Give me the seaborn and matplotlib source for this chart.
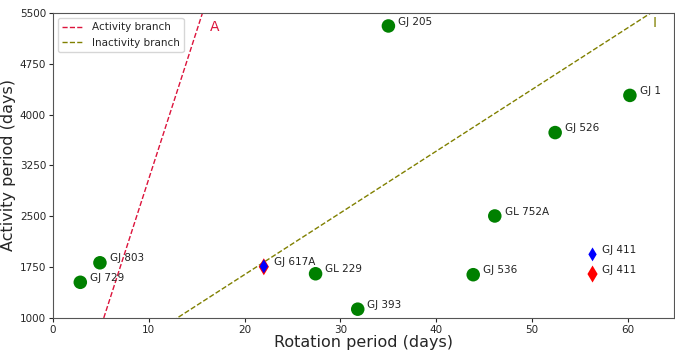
import numpy as np
import pandas as pd
import matplotlib
matplotlib.use("Agg")
import matplotlib.pyplot as plt
import seaborn as sns

# Stars with single activity cycle (green circles)
star_names = ["GJ 729", "GJ 803", "GL 229", "GJ 393", "GJ 205", "GJ 536", "GL 752A", "GJ 526", "GJ 1"]
rot_period = [2.85, 4.9, 27.4, 31.8, 35.0, 43.85, 46.1, 52.4, 60.2]
cyc_period = [1525, 1813, 1651, 1128, 5309, 1637, 2504, 3735, 4284]

# Stars with a second cycle estimate (red / blue diamonds)
dia_names = ["GJ 617A", "GJ 411"]
dia_rot = [22.0, 56.3]
dia_cyc_red = [1754, 1647]
dia_cyc_blue = [1760, 1937]

# Branch lines: cycle = slope * rotation + intercept
act_slope, act_intercept = 437.0, -1316.0
inact_slope, inact_intercept = 91.1, -182.5

sns.set_style("ticks")
fig = plt.figure(figsize=(6.75, 3.52), dpi=100)
ax = fig.add_axes([0.0785, 0.097, 0.92, 0.866])

xx = np.linspace(0, 65, 200)
sns.lineplot(x=xx, y=act_slope * xx + act_intercept, ax=ax, color="crimson",
             linestyle="--", linewidth=1, label="Activity branch")
sns.lineplot(x=xx, y=inact_slope * xx + inact_intercept, ax=ax, color="olive",
             linestyle="--", linewidth=1, label="Inactivity branch")

sns.scatterplot(x=rot_period, y=cyc_period, ax=ax, color="green", s=95,
                edgecolor="none", marker="o", zorder=3)
sns.scatterplot(x=dia_rot, y=dia_cyc_red, ax=ax, color="red", s=75,
                edgecolor="none", marker="d", zorder=3)
sns.scatterplot(x=dia_rot, y=dia_cyc_blue, ax=ax, color="blue", s=50,
                edgecolor="none", marker="d", zorder=4)

for n, x, y in zip(star_names, rot_period, cyc_period):
    ax.annotate(n, (x, y), xytext=(7, 1), textcoords="offset points", fontsize=7.5, color="#222222")
ax.annotate(dia_names[0], (dia_rot[0], dia_cyc_red[0]), xytext=(7, 1),
            textcoords="offset points", fontsize=7.5, color="#222222")
ax.annotate(dia_names[1], (dia_rot[1], dia_cyc_red[1]), xytext=(7, 1),
            textcoords="offset points", fontsize=7.5, color="#222222")
ax.annotate(dia_names[1], (dia_rot[1], dia_cyc_blue[1]), xytext=(7, 1),
            textcoords="offset points", fontsize=7.5, color="#222222")

ax.text(16.4, 5300, "A", color="crimson", fontsize=10, va="center")
ax.text(62.6, 5350, "I", color="olive", fontsize=10, va="center")

ax.set_xlim(0, 64.8)
ax.set_ylim(1000, 5500)
ax.set_yticks([1000, 1750, 2500, 3250, 4000, 4750, 5500])
ax.set_xticks([0, 10, 20, 30, 40, 50, 60])
ax.tick_params(labelsize=7.5, pad=2, length=3)
ax.set_xlabel("Rotation period (days)", fontsize=11.5, labelpad=0)
ax.set_ylabel("Activity period (days)", fontsize=11.5, labelpad=3)
for s in ax.spines.values():
    s.set_color("#555555")
ax.legend(loc="upper left", fontsize=7.5, handlelength=2.0)

fig.savefig("out.png", dpi=100)
